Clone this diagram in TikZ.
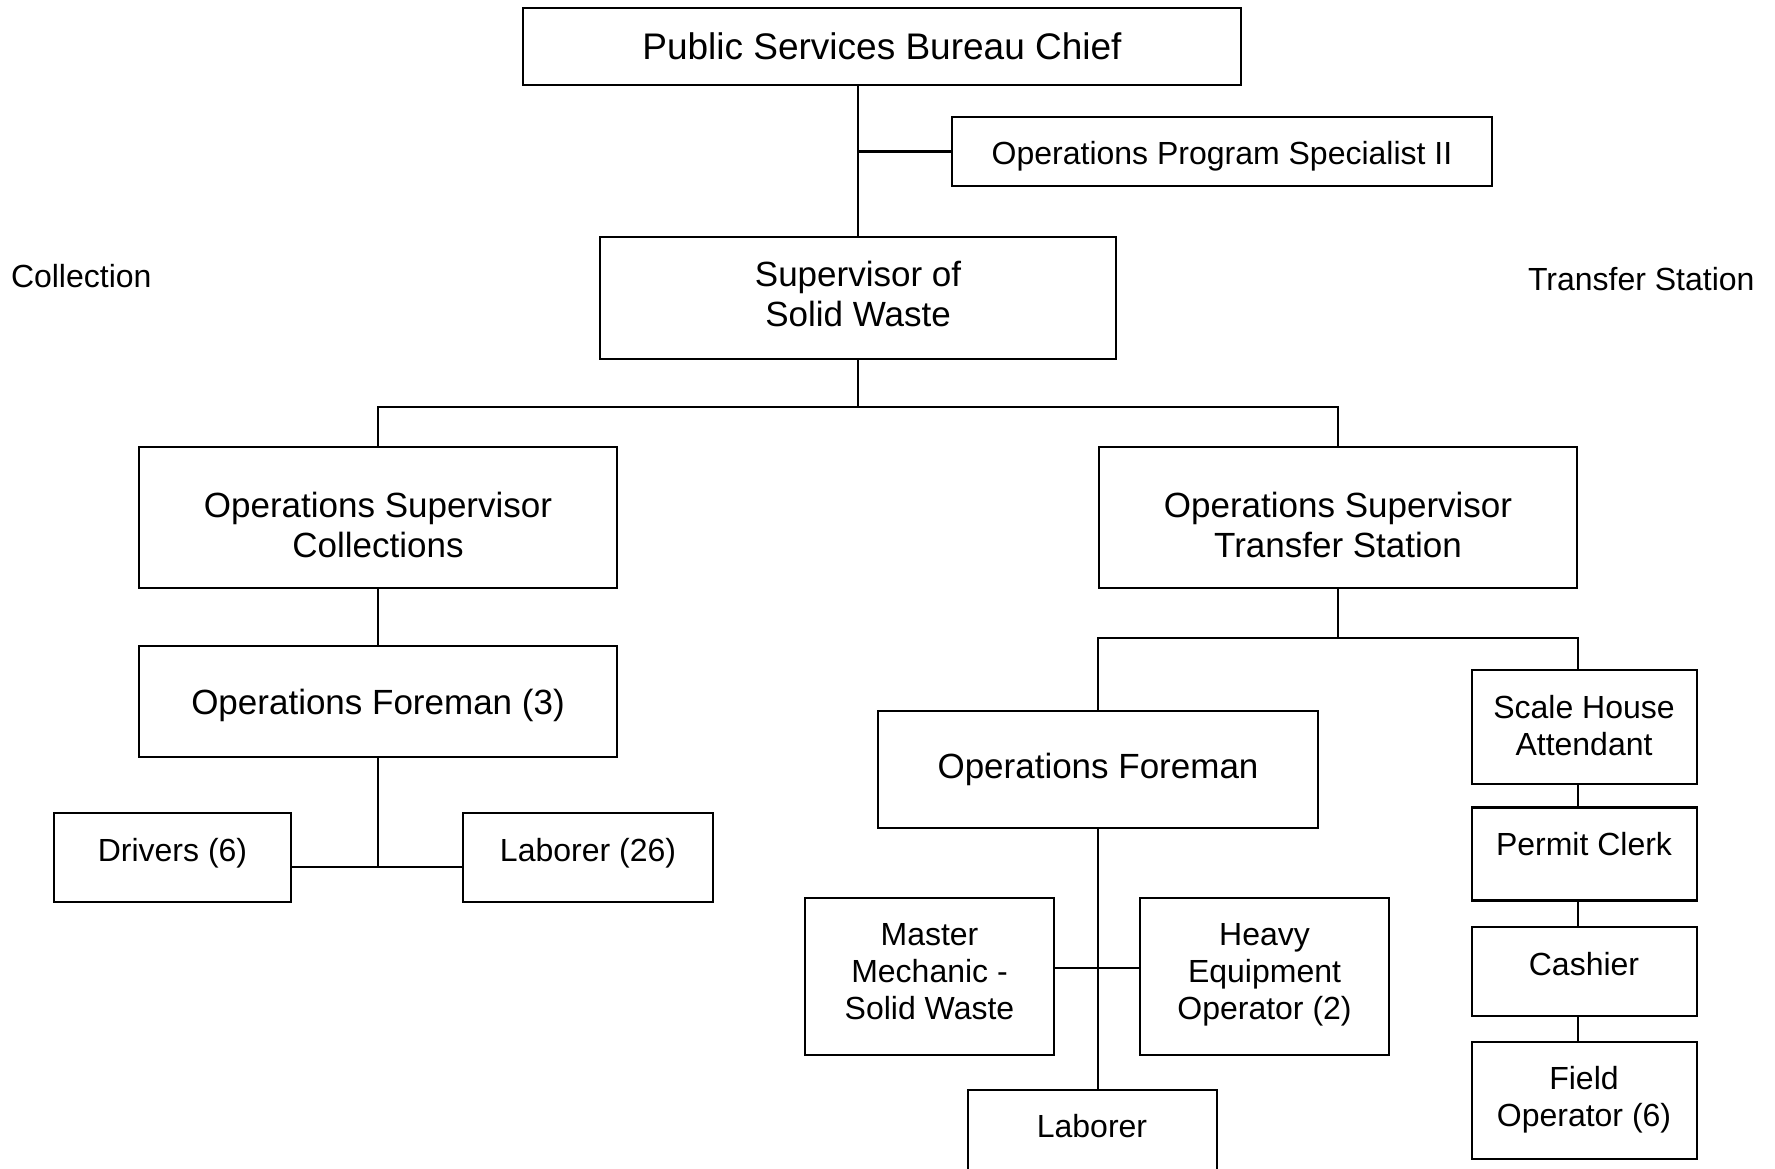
\documentclass[tikz,border=0pt]{standalone}
\usepackage{fontspec}
\setmainfont{Liberation Sans}
% centred lines of text whose baseline is the last line's
\newcommand\rows[1]{\begin{tabular}[b]{@{}c@{}}#1\end{tabular}}
\begin{document}
\begin{tikzpicture}[x=1pt, y=-1pt, line width=2.6pt,
  box/.style={draw, rectangle, inner sep=0pt, outer sep=0pt},
  txt/.style={anchor=base, inner sep=0pt, outer sep=0pt},
  huge/.style={txt, font=\fontsize{37}{42}\selectfont},
  big/.style={txt, font=\fontsize{35}{39.5}\selectfont},
  small/.style={txt, font=\fontsize{32}{37}\selectfont}]
\useasboundingbox (0,0) rectangle (1775,1168);
\clip (0,0) rectangle (1775,1168);

% boxes
\node[box, minimum width=718, minimum height=77]  (chief) at (882,46.5) {};
\node[box, minimum width=540, minimum height=69]  (spec)  at (1222,151.5) {};
\node[box, minimum width=516, minimum height=122] (sup)   at (858,298) {};
\node[box, minimum width=478, minimum height=141] (osc)   at (378,517.5) {};
\node[box, minimum width=478, minimum height=141] (ost)   at (1338,517.5) {};
\node[box, minimum width=478, minimum height=111] (of3)   at (378,701.5) {};
\node[box, minimum width=237, minimum height=89]  (drv)   at (172.5,857.5) {};
\node[box, minimum width=250, minimum height=89]  (lab26) at (588,857.5) {};
\node[box, minimum width=440, minimum height=117] (of)    at (1098,769.5) {};
\node[box, minimum width=225, minimum height=114] (sha)   at (1584.5,727) {};
\node[box, minimum width=225, minimum height=93]  (pc)    at (1584.5,854) {};
\node[box, minimum width=225, minimum height=89]  (cash)  at (1584.5,971.5) {};
\node[box, minimum width=225, minimum height=117] (fo)    at (1584.5,1100.5) {};
\node[box, minimum width=249, minimum height=157] (mm)    at (929.5,976.5) {};
\node[box, minimum width=249, minimum height=157] (heo)   at (1264.5,976.5) {};
\node[box, minimum width=249, minimum height=110] (lab)   at (1092.5,1145) {};

% box texts
\node[huge]  (t-chief) at (882,59)      {\rows{Public Services Bureau Chief}};
\node[small] (t-spec)  at (1222,164)    {\rows{Operations Program Specialist II}};
\node[big]   (t-sup)   at (858,326)     {\rows{Supervisor of\\Solid Waste}};
\node[big]   (t-osc)   at (378,557)     {\rows{Operations Supervisor\\Collections}};
\node[big]   (t-ost)   at (1338,557)    {\rows{Operations Supervisor\\Transfer Station}};
\node[big]   (t-of3)   at (378,714)     {\rows{Operations Foreman (3)}};
\node[small] (t-drv)   at (172.5,861)   {\rows{Drivers (6)}};
\node[small] (t-lab26) at (588,861)     {\rows{Laborer (26)}};
\node[big]   (t-of)    at (1098,778.5)  {\rows{Operations Foreman}};
\node[small] (t-sha)   at (1584,755)    {\rows{Scale House\\Attendant}};
\node[small] (t-pc)    at (1584,855)    {\rows{Permit Clerk}};
\node[small] (t-cash)  at (1584,975)    {\rows{Cashier}};
\node[small] (t-fo)    at (1584,1126)   {\rows{Field\\Operator (6)}};
\node[small] (t-mm)    at (929.5,1019.5){\rows{Master\\Mechanic -\\Solid Waste}};
\node[small] (t-heo)   at (1264.5,1019.5){\rows{Heavy\\Equipment\\Operator (2)}};
\node[small] (t-lab)   at (1092,1137)   {\rows{Laborer}};

% section captions
\node[small, anchor=base west] (cap-col) at (11,287)   {Collection};
\node[small, anchor=base west] (cap-ts)  at (1528,290) {Transfer Station};

% junction points
\coordinate (b1)   at (858,407);
\coordinate (b2)   at (378,867);
\coordinate (b3)   at (1338,638);
\coordinate (colr) at (1578,638);
\coordinate (b4)   at (1098,968);

% connectors
\draw (sup.north) -- (sup.north |- chief.south);
\draw (spec.west) -- (spec.west -| sup.north);
\draw (sup.south) -- (b1);
\draw (osc.north) -- (osc.north |- b1) -- (ost.north |- b1) -- (ost.north);
\draw (osc.south) -- (of3.north);
\draw (of3.south) -- (b2);
\draw (drv.east |- b2) -- (lab26.west |- b2);
\draw (ost.south) -- (b3);
\draw (of.north) -- (of.north |- b3) -- (colr) -- (colr |- sha.north);
\draw (colr |- sha.south)  -- (colr |- pc.north);
\draw (colr |- pc.south)   -- (colr |- cash.north);
\draw (colr |- cash.south) -- (colr |- fo.north);
\draw (of.south) -- (of.south |- lab.north);
\draw (mm.east |- b4) -- (heo.west |- b4);
\end{tikzpicture}
\end{document}
